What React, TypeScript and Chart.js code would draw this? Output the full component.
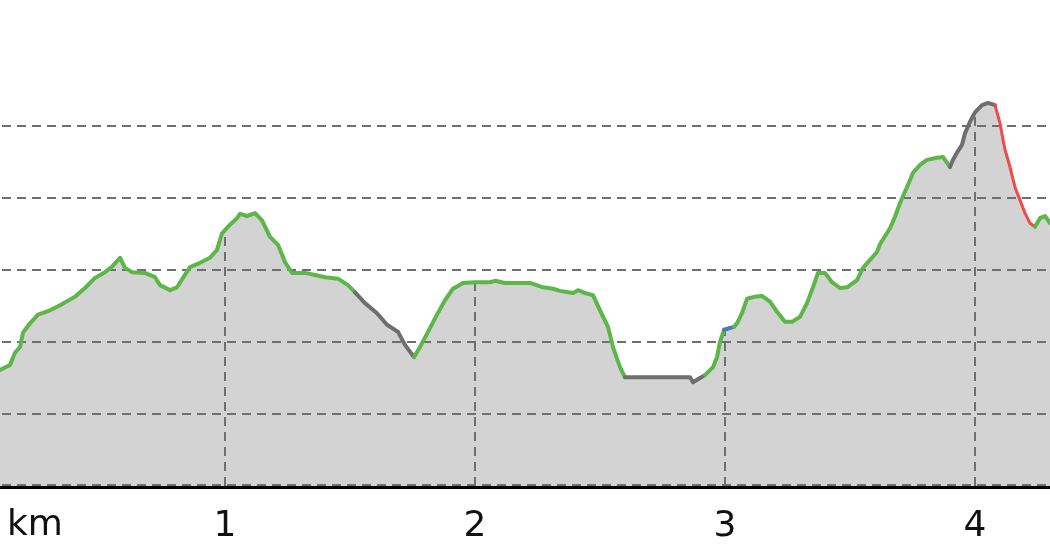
import React, { useEffect, useRef } from "react";
import { Chart, registerables } from "chart.js";

Chart.register(...registerables);

// Distance along the route (km)
const distKm = [
  0.1, 0.14, 0.16, 0.18, 0.192, 0.22, 0.252, 0.3, 0.34, 0.4, 0.44, 0.48, 0.52, 0.552, 0.58, 0.6, 0.628,
  0.68, 0.72, 0.74, 0.78, 0.808, 0.832, 0.86, 0.9, 0.94, 0.968, 0.988, 1.02, 1.048, 1.06, 1.088, 1.12,
  1.148, 1.18, 1.212, 1.24, 1.268, 1.32, 1.36, 1.4, 1.452, 1.492, 1.52, 1.56, 1.608, 1.648, 1.692, 1.72,
  1.756, 1.78, 1.812, 1.848, 1.88, 1.912, 1.952, 2.0, 2.06, 2.08, 2.12, 2.22, 2.272, 2.312, 2.34, 2.392,
  2.412, 2.44, 2.472, 2.5, 2.532, 2.552, 2.58, 2.6, 2.74, 2.86, 2.872, 2.9, 2.92, 2.952, 2.968, 2.98,
  2.996, 3.036, 3.048, 3.068, 3.088, 3.12, 3.148, 3.18, 3.208, 3.24, 3.268, 3.3, 3.328, 3.352, 3.372,
  3.4, 3.428, 3.46, 3.488, 3.528, 3.552, 3.58, 3.608, 3.62, 3.66, 3.68, 3.7, 3.728, 3.752, 3.78, 3.808,
  3.848, 3.872, 3.9, 3.912, 3.928, 3.948, 3.96, 3.98, 4.0, 4.028, 4.052, 4.08, 4.1, 4.112, 4.12, 4.14,
  4.16, 4.18, 4.2, 4.22, 4.24, 4.26, 4.28, 4.3, 4.32,
];

// Elevation (m)
const elevM = [
  216.1, 216.8, 218.5, 219.3, 221.3, 222.6, 223.8, 224.4, 225.1, 226.3, 227.5, 228.9, 229.7, 230.6, 231.7,
  230.3, 229.7, 229.6, 229.0, 227.9, 227.2, 227.6, 228.9, 230.4, 231.0, 231.7, 232.8, 235.1, 236.3, 237.2,
  237.8, 237.5, 237.9, 236.9, 234.6, 233.5, 231.1, 229.6, 229.6, 229.3, 229.0, 228.8, 227.9, 226.9, 225.4,
  224.0, 222.4, 221.4, 219.6, 217.9, 219.3, 221.4, 223.8, 225.8, 227.4, 228.2, 228.3, 228.3, 228.5, 228.2,
  228.2, 227.6, 227.4, 227.1, 226.8, 227.2, 226.8, 226.5, 224.4, 222.1, 219.3, 216.5, 215.1, 215.1, 215.1,
  214.4, 215.0, 215.4, 216.5, 217.9, 220.0, 221.7, 222.1, 222.6, 224.0, 226.0, 226.3, 226.4, 225.6, 224.2,
  222.8, 222.8, 223.5, 225.4, 227.6, 229.6, 229.6, 228.3, 227.5, 227.6, 228.6, 230.3, 231.4, 232.5, 233.6,
  235.8, 237.4, 239.3, 241.5, 243.5, 244.6, 245.3, 245.6, 245.7, 244.3, 245.3, 246.3, 247.4, 249.0, 250.6,
  251.9, 252.9, 253.2, 252.9, 250.4, 248.1, 246.7, 244.3, 241.5, 239.7, 237.9, 236.5, 236.0, 237.2, 237.5,
  236.5, 235.5,
];

// Where the line colour changes (km) and the colour used from there on
const segStartKm = [0.1, 1.52, 1.756, 2.6, 2.92, 2.996, 3.036, 3.9, 4.08, 4.24];
const segKind = ["green", "gray", "green", "gray", "green", "blue", "green", "gray", "red", "green"];

const xTicks = [1, 2, 3, 4];
const yGrid = [200, 210, 220, 230, 240, 250];

const COLORS: Record<string, string> = {
  green: "#5cb648",
  gray: "#6e6e6e",
  blue: "#4a78c8",
  red: "#f04a4a",
};

function kindAt(x: number): string {
  let k = segKind[0];
  for (let i = 0; i < segStartKm.length; i++) {
    if (x >= segStartKm[i] - 1e-9) k = segKind[i];
  }
  return k;
}

function elevAt(x: number): number {
  for (let i = 0; i < distKm.length - 1; i++) {
    if (x >= distKm[i] && x <= distKm[i + 1]) {
      const t = (x - distKm[i]) / (distKm[i + 1] - distKm[i]);
      return elevM[i] + t * (elevM[i + 1] - elevM[i]);
    }
  }
  return elevM[elevM.length - 1];
}

const gridPlugin = {
  id: "profileGrid",
  beforeDatasetDraw(chart: any, args: any) {
    if (args.index !== 0) return;
    const { ctx, chartArea } = chart;
    const xs = chart.scales.x;
    const ys = chart.scales.y;
    ctx.save();
    ctx.strokeStyle = "#6f6f6f";
    ctx.lineWidth = 2;
    ctx.setLineDash([9, 6]);
    for (const v of yGrid) {
      const y = Math.round(ys.getPixelForValue(v)) - (v === 200 ? 1 : 0);
      ctx.beginPath();
      ctx.moveTo(chartArea.left + 2, y);
      ctx.lineTo(chartArea.right, y);
      ctx.stroke();
    }
    for (const t of xTicks) {
      const x = Math.round(xs.getPixelForValue(t));
      const yTop = ys.getPixelForValue(elevAt(t));
      ctx.beginPath();
      ctx.moveTo(x, chartArea.bottom);
      ctx.lineTo(x, yTop);
      ctx.stroke();
    }
    ctx.restore();
  },
  afterDatasetsDraw(chart: any) {
    const { ctx, chartArea } = chart;
    ctx.save();
    ctx.strokeStyle = "#000";
    ctx.lineWidth = 3;
    ctx.beginPath();
    ctx.moveTo(chartArea.left, chartArea.bottom + 1.5);
    ctx.lineTo(chartArea.right, chartArea.bottom + 1.5);
    ctx.stroke();
    ctx.fillStyle = "#111";
    ctx.font = "36px 'DejaVu Sans'";
    ctx.textAlign = "left";
    ctx.textBaseline = "middle";
    ctx.fillText("km", 7, chartArea.bottom + 40);
    ctx.restore();
  },
};

export default function App() {
  const ref = useRef<HTMLCanvasElement | null>(null);
  useEffect(() => {
    document.body.style.margin = "0";
    const points = distKm.map((x, i) => ({ x, y: elevM[i] }));
    const chart = new Chart(ref.current as HTMLCanvasElement, {
      type: "line",
      data: {
        datasets: [
          {
            data: points,
            borderWidth: 4,
            pointRadius: 0,
            fill: false,
            tension: 0,
            borderJoinStyle: "round",
            borderCapStyle: "round",
            borderColor: COLORS.green,
            segment: {
              borderColor: (c: any) => COLORS[kindAt(c.p0.parsed.x)],
              borderWidth: (c: any) => (kindAt(c.p0.parsed.x) === "red" ? 3 : 4),
            },
            order: 0,
          } as any,
          {
            data: points,
            borderWidth: 0,
            pointRadius: 0,
            fill: "start",
            backgroundColor: "#d3d3d3",
            tension: 0,
            order: 1,
          } as any,
        ],
      },
      options: {
        animation: false,
        responsive: true,
        maintainAspectRatio: false,
        layout: { padding: 0 },
        plugins: { legend: { display: false }, tooltip: { enabled: false } },
        scales: {
          x: {
            type: "linear",
            min: 0.1,
            max: 4.3,
            afterBuildTicks: (s: any) => {
              s.ticks = xTicks.map((v) => ({ value: v }));
            },
            afterFit: (s: any) => {
              s.height = 74;
            },
            border: { display: false },
            grid: { display: false, drawTicks: false },
            ticks: {
              color: "#111",
              padding: 19,
              maxRotation: 0,
              font: { family: "'DejaVu Sans'", size: 36 },
              callback: (v: any) => String(v),
            },
          },
          y: {
            display: false,
            min: 200,
            max: 267.5,
          },
        },
      },
      plugins: [gridPlugin],
    });
    return () => chart.destroy();
  }, []);
  return (
    <div style={{ width: 1050, height: 560, position: "relative" }}>
      <canvas ref={ref} />
    </div>
  );
}
